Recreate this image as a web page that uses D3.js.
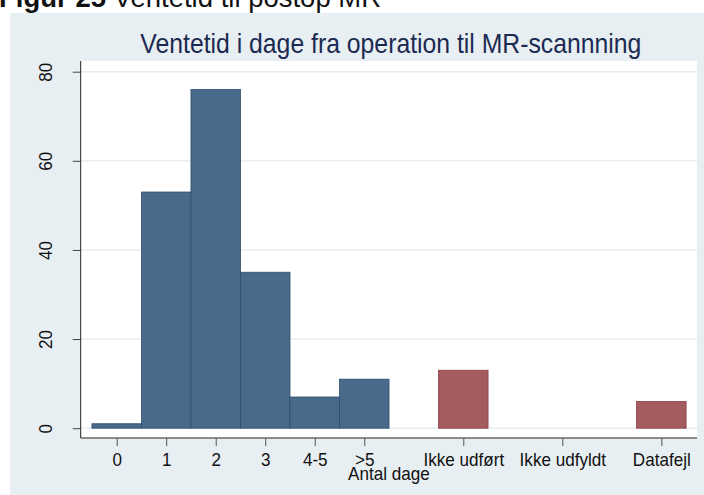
<!DOCTYPE html>
<html>
<head>
<meta charset="utf-8">
<script src="https://cdn.jsdelivr.net/npm/d3@7"></script>
<style>
  body { margin: 0; background: #fff; }
  svg { display: block; font-family: Arial, "Liberation Sans", sans-serif; }
</style>
</head>
<body>
<svg id="canvas" width="704" height="495"></svg>
<script>
// Values
const categories = ["0", "1", "2", "3", "4-5", ">5", "Ikke udført", "Ikke udfyldt", "Datafejl"];
const slots = [0, 1, 2, 3, 4, 5, 7, 9, 11];
const counts = [1, 53, 76, 35, 7, 11, 13, 0, 6];
const groups = ["dage", "dage", "dage", "dage", "dage", "dage", "andet", "andet", "andet"];
const yTicks = [0, 20, 40, 60, 80];

// small stand-in for d3-selection-multi
d3.selection.prototype.attrs = function (obj) {
  Object.entries(obj).forEach(([k, v]) => this.attr(k, v));
  return this;
};

const svg = d3.select("#canvas");
const w = +svg.attr("width");
const h = +svg.attr("height");

// plot box
const [pl, pt, pr, pb] = [80.7, 61, 697, 438];
const squeeze = 0.95; // Stata font looks a bit narrow
const fs = 18;

const x = d3.scaleLinear().domain([-0.727, 11.72]).range([pl, pr]);
const y = d3.scaleLinear().domain([-2.2, 82.4]).range([pb, pt]);
const bw = x(1) - x(0);

const fill = d3.scaleOrdinal().domain(["dage", "andet"]).range(["#4a6a8c", "#a45c61"]);
const edge = d3.scaleOrdinal().domain(["dage", "andet"]).range(["#2f4e6e", "#913a43"]);

// header above the graph
const head = svg.append("text")
  .attrs({ x: -1, y: 7, "font-size": 27.5, fill: "#111" });
head.append("tspan").attr("font-weight", "bold").text("Figur 25");
head.append("tspan").text(" Ventetid til postop MR");

// graph region background
svg.append("rect")
  .attrs({ x: 10, y: 13, width: w - 10, height: h - 13, fill: "#e8eff2" });

svg.append("rect")
  .attrs({ x: pl, y: pt, width: pr - pl, height: pb - pt, fill: "#fff" });

// title
svg.append("g")
  .attr("transform", `translate(${(pl + pr) / 2 + 2},53) scale(0.885,1)`)
  .append("text")
  .attrs({ "text-anchor": "middle", "font-size": 28, fill: "#1c2a52" })
  .text("Ventetid i dage fra operation til MR-scannning");

// grid lines
svg.append("g")
  .selectAll("line")
  .data(yTicks)
  .join("line")
  .attrs({
    x1: pl, x2: pr,
    y1: (d) => y(d), y2: (d) => y(d),
    stroke: "#e6eef1", "stroke-width": 1.5,
  });

// bars
svg.append("g")
  .selectAll("rect")
  .data(counts.map((v, i) => ({ v, s: slots[i], g: groups[i] })).filter((d) => d.v > 0))
  .join("rect")
  .attrs({
    x: (d) => x(d.s) - bw / 2,
    y: (d) => y(d.v),
    width: bw,
    height: (d) => y(0) - y(d.v),
    fill: (d) => fill(d.g),
    stroke: (d) => edge(d.g),
    "stroke-width": 0.8,
  });

// y axis
const yAxis = svg.append("g")
  .attr("transform", `translate(${pl},0)`)
  .call(d3.axisLeft(y).tickValues(yTicks).tickSize(8).tickSizeOuter(0));
yAxis.select(".domain").attr("d", `M0,${pt}V${pb}`).attr("stroke", "#222");
yAxis.selectAll(".tick line").attr("stroke", "#444");
yAxis.selectAll(".tick text")
  .attrs({ x: 0, y: 0, dy: 0, "text-anchor": "middle", "font-size": fs, fill: "#111" })
  .attr("transform", `translate(${52 - pl},0) rotate(-90) scale(${squeeze},1)`)
  .style("font-family", "Arial, 'Liberation Sans', sans-serif");

// x axis
const xAxis = svg.append("g")
  .attr("transform", `translate(0,${pb})`)
  .call(d3.axisBottom(x).tickValues(slots).tickFormat((d, i) => categories[i]).tickSize(8).tickSizeOuter(0));
xAxis.select(".domain").attr("d", `M${pl},0H${pr}`).attr("stroke", "#222");
xAxis.selectAll(".tick line").attr("stroke", "#555");
xAxis.selectAll(".tick text")
  .attrs({ y: 28, dy: 0, "font-size": fs, fill: "#111" })
  .attr("transform", `scale(${squeeze},1)`)
  .style("font-family", "Arial, 'Liberation Sans', sans-serif");

svg.append("g")
  .attr("transform", `translate(${(pl + pr) / 2},${pb + 42}) scale(${squeeze},1)`)
  .append("text")
  .attrs({ "text-anchor": "middle", "font-size": fs, fill: "#111" })
  .text("Antal dage");
</script>
</body>
</html>
